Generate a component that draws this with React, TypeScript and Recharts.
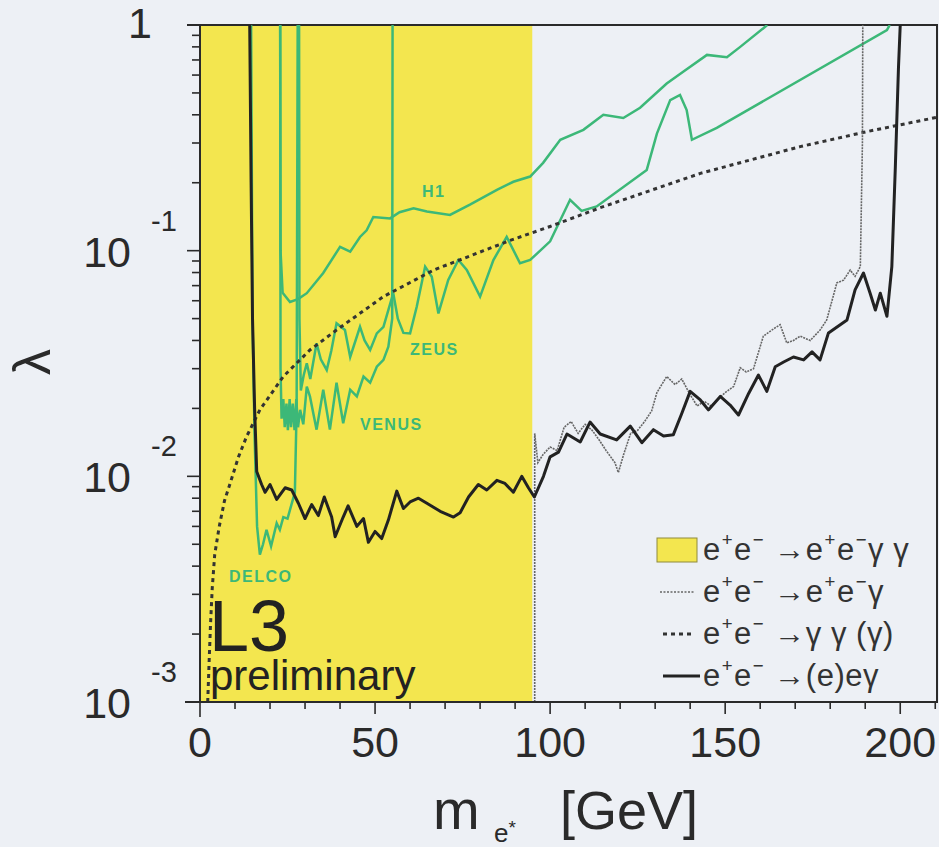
import React from 'react';
import { ComposedChart, Line, XAxis, YAxis, ReferenceArea, Legend } from 'recharts';

const FONT = "'Liberation Sans', Arial, Helvetica, sans-serif";
const GREEN = '#3cb878';
const YELLOW = '#f3e64f';
const BG = '#edf0f5';
const INK = '#2a2a2a';

// ---- axes ----
const xDomain = [0, 210.5];
const xTicks = [0, 10, 20, 30, 40, 50, 60, 70, 80, 90, 100, 110, 120, 130, 140, 150, 160, 170, 180, 190, 200, 210];
const xLabelTicks = [0, 50, 100, 150, 200];
const yDomain = [0.001, 1];
const yTicks = [
  0.001, 0.002, 0.003, 0.004, 0.005, 0.006, 0.007, 0.008, 0.009,
  0.01, 0.02, 0.03, 0.04, 0.05, 0.06, 0.07, 0.08, 0.09,
  0.1, 0.2, 0.3, 0.4, 0.5, 0.6, 0.7, 0.8, 0.9, 1,
];
const yMajorTicks = [0.001, 0.01, 0.1, 1];
const yMajorExponents = ['-3', '-2', '-1', ''];

// ---- yellow band: e+e- -> e+e- gamma gamma excluded ----
const yellowBand = [0, 94.9];

// ---- series, [mass GeV, lambda] ----
const combinedEeg: number[][] = [
  [14.2, 1], [14.6, 0.2], [15.0, 0.05], [15.6, 0.02], [16.2, 0.0105], [17.6, 0.0092], [18.6, 0.0085],
  [20, 0.0092], [21.9, 0.0079], [24.3, 0.0089], [26.2, 0.0087], [28.1, 0.0076], [30, 0.0065],
  [31.9, 0.0075], [33.8, 0.0067], [35.5, 0.0081], [37.6, 0.0066], [38.6, 0.0054], [40.9, 0.0066],
  [42.3, 0.0074], [44.8, 0.006], [46.7, 0.0065], [48.1, 0.0051], [50, 0.0057], [51.9, 0.0053],
  [53.8, 0.0064], [56.2, 0.0086], [58.1, 0.0072], [60, 0.0077], [62.4, 0.008], [64.8, 0.0076],
  [68.6, 0.007], [72.4, 0.0066], [74.3, 0.0069], [76.7, 0.0081], [79.5, 0.0092], [81.9, 0.0087],
  [84.8, 0.0096], [87.1, 0.0093], [89.5, 0.0085], [91.9, 0.01], [93.8, 0.0089], [95.5, 0.0081],
  [98.1, 0.01], [100, 0.0122], [102.4, 0.0128], [104.8, 0.0154], [108.6, 0.0142], [111.4, 0.0174],
  [114.3, 0.0154], [119, 0.0145], [122.9, 0.0167], [126.2, 0.0141], [129.5, 0.0161], [132.4, 0.0151],
  [135.2, 0.0153], [137.6, 0.019], [140, 0.0238], [142.9, 0.0218], [145.2, 0.0197], [148.6, 0.0226],
  [151.4, 0.0207], [153.8, 0.0187], [156.7, 0.0233], [159.5, 0.0281], [161.9, 0.0238], [164.3, 0.0306],
  [166.7, 0.0321], [169.5, 0.0338], [172.4, 0.0328], [174.8, 0.0356], [177.1, 0.0328], [179.5, 0.0432],
  [184.8, 0.0493], [187.1, 0.067], [189.5, 0.0796], [191.4, 0.0648], [192.9, 0.0546], [194.3, 0.0648],
  [196.2, 0.0512], [197.6, 0.085], [198.6, 0.235], [199.5, 0.65], [200, 1],
];

const singleEeg: number[][] = [
  [95.6, 0.001], [95.6, 0.0155], [96.5, 0.0115], [98, 0.0125], [100, 0.0135], [102, 0.013], [104, 0.0165],
  [106, 0.0175], [108, 0.0155], [110, 0.017], [112, 0.016], [114, 0.0145], [116, 0.013], [118.5, 0.0115],
  [119.5, 0.0104], [121, 0.0125], [123, 0.0155], [125, 0.016], [127, 0.0175], [129, 0.0195],
  [130.5, 0.0235], [133.3, 0.0277], [135.7, 0.0255], [137.6, 0.027], [140, 0.023], [142, 0.0205],
  [144, 0.0215], [146, 0.0205], [148, 0.022], [150, 0.0235], [152.4, 0.025], [154.3, 0.0303],
  [156, 0.029], [158.1, 0.03], [160.9, 0.0418], [163.8, 0.045], [165.7, 0.047], [167.6, 0.039],
  [169.5, 0.04], [171.4, 0.0418], [174.3, 0.04], [177.1, 0.0445], [179, 0.0493], [181.9, 0.072],
  [183.8, 0.074], [185.7, 0.082], [187.1, 0.077], [188.6, 0.085], [189.2, 0.3], [189.3, 1],
];

const gammaGamma: number[][] = [
  [2.2, 0.001], [2.6, 0.0015], [3.0, 0.0022], [3.5, 0.0032], [4.2, 0.0045], [5.5, 0.006], [7, 0.0078],
  [8.6, 0.0093], [11, 0.0122], [13.3, 0.015], [17.1, 0.0197], [23.8, 0.0277], [31.4, 0.0363],
  [39, 0.0445], [52.4, 0.0626], [66.7, 0.082], [81, 0.1], [88.6, 0.111], [100, 0.128], [114.3, 0.155],
  [142.9, 0.22], [171.4, 0.289], [190.5, 0.337], [210.5, 0.39],
];

const h1: number[][] = [
  [22.9, 1], [23.0, 0.1], [23.6, 0.065], [25.7, 0.0592], [28, 0.061], [30.5, 0.0648], [35.2, 0.0796],
  [40, 0.104], [42.9, 0.099], [45.7, 0.115], [47.6, 0.123], [49.5, 0.141], [54.3, 0.139], [57, 0.148],
  [61, 0.154], [64.8, 0.149], [71.4, 0.144], [77.1, 0.16], [84.8, 0.186], [89.5, 0.202], [94.3, 0.213],
  [98, 0.245], [102.9, 0.31], [109.5, 0.343], [115.2, 0.4], [120.9, 0.387], [125.7, 0.43], [133.3, 0.55],
  [138, 0.62], [144.8, 0.737], [150.5, 0.72], [154.3, 0.8], [161, 0.97], [162, 1],
];

const zeus: number[][] = [
  [28.3, 1], [28.4, 0.05], [28.8, 0.024], [29.6, 0.028], [30.5, 0.0317], [31.5, 0.027], [33.3, 0.0389],
  [34.5, 0.033], [36.2, 0.0296], [37.5, 0.036], [39, 0.0477], [41.4, 0.0445], [42.9, 0.0338],
  [45.7, 0.046], [47, 0.04], [48.6, 0.0363], [50.5, 0.043], [52.4, 0.046], [55.2, 0.0648], [56.5, 0.05],
  [58.1, 0.0432], [60, 0.043], [61.9, 0.0564], [64.3, 0.085], [66.2, 0.0766], [68.1, 0.0527],
  [70.9, 0.0742], [73.8, 0.0909], [76.2, 0.0821], [80, 0.0626], [83.8, 0.0909], [87.6, 0.115],
  [91.4, 0.088], [94.3, 0.0909], [100, 0.11], [105.7, 0.168], [109, 0.15], [113.3, 0.157],
  [127.6, 0.228], [130.5, 0.33], [134.3, 0.465], [137.1, 0.49], [139, 0.42], [140.5, 0.31],
  [147.6, 0.35], [196.2, 0.95], [197, 1],
];

const venus: number[][] = [
  [22.9, 1], [23.0, 0.03], [23.3, 0.018], [23.8, 0.022], [24.2, 0.0165], [24.7, 0.021], [25.1, 0.016],
  [25.6, 0.022], [26.0, 0.0165], [26.5, 0.021], [27.0, 0.016], [27.5, 0.022], [28.0, 0.0165],
  [28.6, 0.0197], [29.5, 0.017], [30.5, 0.025], [31.4, 0.0226], [33.3, 0.0161], [35.2, 0.0242],
  [37.1, 0.0161], [39, 0.026], [40.9, 0.0172], [42.9, 0.0242], [44.8, 0.0226], [46.7, 0.0277],
  [48.6, 0.026], [50.5, 0.0306], [52.4, 0.0328], [53.8, 0.0375], [54.9, 0.05], [55.0, 1],
];

const delco: number[][] = [
  [14.6, 1], [15.0, 0.05], [15.6, 0.015], [16.3, 0.006], [17.1, 0.0045], [18.0, 0.005], [19.0, 0.0058],
  [20.3, 0.0049], [21.9, 0.0062], [22.8, 0.0058], [23.8, 0.0066], [25.0, 0.0065], [25.7, 0.0071],
  [27.1, 0.0085], [27.6, 0.02], [27.9, 1],
];

const legendLabels = [
  'e^+e^- \u2192e^+e^-\u03b3 \u03b3',
  'e^+e^- \u2192e^+e^-\u03b3',
  'e^+e^- \u2192\u03b3 \u03b3 (\u03b3)',
  'e^+e^- \u2192(e)e\u03b3',
];

const toPts = (a: number[][]) => a.map(([x, y]) => ({ x, y }));

const XTick = (props: any) => {
  const { x, y, payload } = props;
  const v = payload.value;
  const labelled = xLabelTicks.includes(v);
  return (
    <g>
      {v === 0 && <line x1={x - 15} x2={x} y1={y} y2={y} stroke={INK} strokeWidth={2} />}
      <line x1={x} x2={x} y1={y} y2={y + (v === 0 ? 15 : labelled ? 12 : 7)} stroke={INK} strokeWidth={1.6} />
      {labelled && (
        <text x={x} y={y + 55} textAnchor="middle" fontSize={43} fontFamily={FONT} fill={INK}>
          {v}
        </text>
      )}
    </g>
  );
};

const YTick = (props: any) => {
  const { x, y, payload } = props;
  const v = payload.value;
  const idx = yMajorTicks.findIndex((m) => Math.abs(m - v) < m * 1e-6);
  const major = idx >= 0;
  return (
    <g>
      {v === 1 && <line x1={x - 13} x2={x} y1={y} y2={y} stroke={INK} strokeWidth={2} />}
      <line x1={x} x2={x - (major ? 13 : 8)} y1={y} y2={y} stroke={INK} strokeWidth={1.6} />
      {major && yMajorExponents[idx] === '' && (
        <text x={x - 60} y={y + 13} textAnchor="middle" fontSize={43} fontFamily={FONT} fill={INK}>1</text>
      )}
      {major && yMajorExponents[idx] !== '' && (
        <g>
          <text x={x - 69} y={y + 16} textAnchor="end" fontSize={43} fontFamily={FONT} fill={INK}>10</text>
          <text x={x - 49} y={y - 20} textAnchor="start" fontSize={29} fontFamily={FONT} fill={INK}>
            {yMajorExponents[idx]}
          </text>
        </g>
      )}
    </g>
  );
};

function rich(s: string) {
  const out: React.ReactNode[] = [];
  let buf = '';
  for (let i = 0; i < s.length; i++) {
    if (s[i] === '^') {
      if (buf) out.push(<span key={out.length}>{buf}</span>);
      buf = '';
      const c = s[i + 1] === '-' ? '\u2212' : s[i + 1];
      out.push(
        <span key={out.length} style={{ fontSize: '0.6em', position: 'relative', top: '-0.75em', margin: '0 1px' }}>
          {c}
        </span>
      );
      i++;
    } else buf += s[i];
  }
  if (buf) out.push(<span key={out.length}>{buf}</span>);
  return out;
}

const sample = (i: number) => {
  if (i === 0) return <rect x={2} y={4} width={40} height={24} fill={YELLOW} stroke="#8f8a3c" strokeWidth={1} />;
  if (i === 1) return <line x1={5} x2={40} y1={16} y2={16} stroke="#666" strokeWidth={1.6} strokeDasharray="2 1.5" />;
  if (i === 2) return <line x1={8} x2={40} y1={16} y2={16} stroke="#333" strokeWidth={3} strokeDasharray="4 4" />;
  return <line x1={8} x2={45} y1={16} y2={16} stroke="#222" strokeWidth={3} />;
};

const LegendContent = () => (
  <div style={{ fontFamily: FONT, color: '#333', fontSize: 31 }}>
    {legendLabels.map((l, i) => (
      <div key={i} style={{ display: 'flex', alignItems: 'center', height: 42, whiteSpace: 'nowrap' }}>
        <svg width={48} height={32} style={{ flex: 'none' }}>{sample(i)}</svg>
        <span style={{ letterSpacing: 0.5 }}>{rich(l)}</span>
      </div>
    ))}
  </div>
);

export default function App() {
  return (
    <div style={{ position: 'absolute', left: 0, top: 0, width: 939, height: 847, background: BG, overflow: 'hidden' }}>
      <ComposedChart width={939} height={847} margin={{ top: 25, right: 2, bottom: 0, left: 0 }}>
        <XAxis
          dataKey="x"
          type="number"
          domain={xDomain}
          ticks={xTicks}
          interval={0}
          allowDataOverflow
          height={145}
          tickSize={0}
          tickMargin={0}
          tickLine={false}
          tick={<XTick />}
          axisLine={{ stroke: INK, strokeWidth: 2 }}
        />
        <YAxis
          type="number"
          scale="log"
          domain={yDomain}
          ticks={yTicks}
          interval={0}
          allowDataOverflow
          width={200}
          tickSize={0}
          tickMargin={0}
          tickLine={false}
          tick={<YTick />}
          axisLine={{ stroke: INK, strokeWidth: 2 }}
        />
        <ReferenceArea x1={yellowBand[0]} x2={yellowBand[1]} y1={yDomain[0]} y2={yDomain[1]} fill={YELLOW} fillOpacity={1} stroke="none" />
        <Line data={toPts(delco)} dataKey="y" stroke={GREEN} strokeWidth={2.5} dot={false} isAnimationActive={false} />
        <Line data={toPts(venus)} dataKey="y" stroke={GREEN} strokeWidth={2.5} dot={false} isAnimationActive={false} />
        <Line data={toPts(zeus)} dataKey="y" stroke={GREEN} strokeWidth={2.5} dot={false} isAnimationActive={false} />
        <Line data={toPts(h1)} dataKey="y" stroke={GREEN} strokeWidth={2.5} dot={false} isAnimationActive={false} />
        <Line data={toPts(gammaGamma)} dataKey="y" stroke="#333" strokeWidth={3} strokeDasharray="4 4" dot={false} isAnimationActive={false} />
        <Line data={toPts(singleEeg)} dataKey="y" stroke="#666" strokeWidth={1.6} strokeDasharray="2 1" dot={false} isAnimationActive={false} />
        <Line data={toPts(combinedEeg)} dataKey="y" stroke="#222" strokeWidth={3} strokeLinejoin="round" dot={false} isAnimationActive={false} />
        <ReferenceArea x1={xDomain[0]} x2={xDomain[1]} y1={yDomain[0]} y2={yDomain[1]} fill="none" stroke={INK} strokeWidth={2} />
        <Legend
          layout="horizontal"
          verticalAlign="middle"
          align="center"
          content={<LegendContent />}
          wrapperStyle={{ position: 'absolute', left: 655, top: 529, width: 284, height: 170 }}
        />
      </ComposedChart>
      <svg width={939} height={847} style={{ position: 'absolute', left: 0, top: 0, pointerEvents: 'none' }} fontFamily={FONT}>
        <text x={209} y={651} fontSize={72} fill="#222">L3</text>
        <text x={210} y={690} fontSize={42} fill="#222">preliminary</text>
        <g fill={GREEN} fontWeight="bold" fontSize={16} letterSpacing={1.5}>
          <text x={422} y={197}>H1</text>
          <text x={410} y={355}>ZEUS</text>
          <text x={360} y={430}>VENUS</text>
          <text x={229} y={582}>DELCO</text>
        </g>
        <text x={32} y={362} fontSize={52} fill={INK} textAnchor="middle" dominantBaseline="central" transform="rotate(-90 32 362)">λ</text>
        <text x={433} y={829} fontSize={56} fill={INK}>m</text>
        <text x={494} y={842} fontSize={26} fill={INK}>e<tspan dy={-8} fontSize={19}>*</tspan></text>
        <text x={560} y={829} fontSize={54} fill={INK}>[GeV]</text>
      </svg>
    </div>
  );
}
